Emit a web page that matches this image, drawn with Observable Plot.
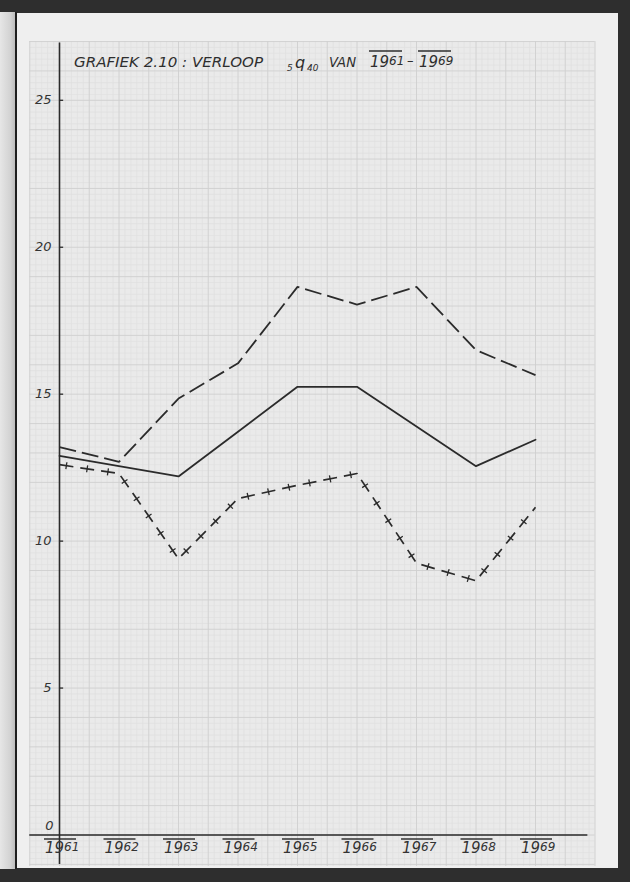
<!DOCTYPE html>
<html>
<head>
<meta charset="utf-8">
<script src="https://cdn.jsdelivr.net/npm/d3@7"></script>
<script src="https://cdn.jsdelivr.net/npm/@observablehq/plot@0.6"></script>
<style>
  html, body { margin:0; padding:0; }
  body { width:630px; height:882px; position:relative; overflow:hidden; background:#2e2e2e; }
  .layer { position:absolute; }
  #leftpage { left:0; top:12px; width:15px; height:857px; background:linear-gradient(to right,#e6e6e6,#d2d2d2 70%,#bdbdbd); }
  #edge { left:15px; top:12px; width:2px; height:857px; background:#1e1e1e; }
  #paper { left:17px; top:13px; width:601px; height:855px; background:#efefef; }
  #gridbg { left:29px; top:41px; width:566px; height:825px; background:#eaeaea; }
  #chart { position:absolute; left:0; top:0; }
  #chart svg { display:block; }
</style>
</head>
<body>
<div class="layer" id="leftpage"></div>
<div class="layer" id="edge"></div>
<div class="layer" id="paper"></div>
<div class="layer" id="gridbg"></div>
<div id="chart"></div>
<script>
// ---- data ----
const years = [1961, 1962, 1963, 1964, 1965, 1966, 1967, 1968, 1969];
const yearLabels = ["1961", "1962", "1963", "1964", "1965", "1966", "1967", "1968", "1969"];
const dashedSeries = [13.2, 12.7, 14.85, 16.05, 18.65, 18.05, 18.65, 16.5, 15.65];
const solidSeries  = [12.9, 12.55, 12.2, 13.72, 15.25, 15.25, 13.9, 12.55, 13.45];
const crossSeries  = [12.6, 12.3, 9.4, 11.45, 11.9, 12.3, 9.25, 8.65, 11.15];
const yTickValues = [0, 5, 10, 15, 20, 25];

const toRows = (vals) => years.map((yr, i) => ({year: yr, value: vals[i]}));

// graph-paper lines (decoration)
const vLines = d3.range(0, 96).map(i => ({x: 1960.5 + i / 10, major: i % 5 === 0}));
const hLines = d3.range(0, 141).map(i => ({y: -1 + i * 0.2, major: i % 5 === 0}));

const ink = "#2b2b2b";
const font = "DejaVu Sans, sans-serif";

const chart = Plot.plot({
  width: 630,
  height: 882,
  margin: 0,
  x: {domain: [1961, 1969], range: [59, 535], axis: null},
  y: {domain: [0, 25], range: [834.5, 99.8], axis: null},
  style: {background: "transparent", overflow: "visible"},
  marks: [
    Plot.ruleX(vLines.filter(d => !d.major), {x: "x", y1: -1.07, y2: 27, stroke: "#dfdfdf", strokeWidth: 0.7}),
    Plot.ruleY(hLines.filter(d => !d.major), {y: "y", x1: 1960.5, x2: 1970, stroke: "#dfdfdf", strokeWidth: 0.7}),
    Plot.ruleX(vLines.filter(d => d.major), {x: "x", y1: -1.07, y2: 27, stroke: "#cfcfcf", strokeWidth: 0.9}),
    Plot.ruleY(hLines.filter(d => d.major), {y: "y", x1: 1960.5, x2: 1970, stroke: "#cfcfcf", strokeWidth: 0.9}),
    // axes
    Plot.ruleX([1961], {y1: -1.0, y2: 26.95, stroke: ink, strokeWidth: 1.6}),
    Plot.ruleY([0], {x1: 1960.5, x2: 1969.88, stroke: ink, strokeWidth: 1.6}),
    Plot.ruleY(yTickValues.filter(v => v > 0), {x1: 1961, x2: 1961.07, stroke: ink, strokeWidth: 1.3}),
    Plot.text(yTickValues.filter(v => v > 0), {x: () => 1961, y: d => d, text: d => String(d), dx: -8, textAnchor: "end",
      fontSize: 13, fontStyle: "italic", fontFamily: font, fill: "#333"}),
    Plot.text([0], {x: () => 1961, y: d => d, text: d => String(d), dx: -10, dy: -9, textAnchor: "middle",
      fontSize: 13, fontStyle: "italic", fontFamily: font, fill: "#333"}),
    // series
    Plot.line(toRows(dashedSeries), {x: "year", y: "value", stroke: ink, strokeWidth: 1.8, strokeDasharray: "17,6",
      strokeLinecap: "butt", strokeLinejoin: "miter"}),
    Plot.line(toRows(solidSeries), {x: "year", y: "value", stroke: ink, strokeWidth: 1.8, strokeLinejoin: "miter"}),
    Plot.line(toRows(crossSeries), {x: "year", y: "value", stroke: ink, strokeWidth: 1.7, strokeDasharray: "14,7",
      strokeLinecap: "butt", strokeLinejoin: "miter"}),
    Plot.line(toRows(crossSeries), {x: "year", y: "value", stroke: ink, strokeWidth: 7, strokeDasharray: "1.3,19.7",
      strokeDashoffset: -6.3, strokeLinecap: "butt", strokeLinejoin: "bevel"})
  ]
});
document.getElementById("chart").appendChild(chart);

const svg = d3.select(chart);
const xs = chart.scale("x");
const ys = chart.scale("y");

// year labels below the x axis, with overline
const xl = svg.append("g").attr("fill", "#333").attr("font-family", font).attr("font-style", "italic")
  .attr("text-anchor", "start");
years.forEach((yr, i) => {
  const cx = xs.apply(yr) + 1;
  const base = ys.apply(0) + 18;
  xl.append("line").attr("x1", cx - 16).attr("x2", cx + 16)
    .attr("y1", base - 13.5).attr("y2", base - 13.5).attr("stroke", "#333").attr("stroke-width", 1.5);
  const t = xl.append("text").attr("x", cx - 15).attr("y", base);
  t.append("tspan").attr("font-size", 15).text(yearLabels[i].slice(0, 2));
  t.append("tspan").attr("font-size", 12).attr("dy", -2).text(yearLabels[i].slice(2));
});

// title
const tg = svg.append("g").attr("fill", "#2e2e2e").attr("font-family", font).attr("font-style", "italic")
  .attr("text-anchor", "start");
const titleBase = 67;
tg.append("text").attr("x", 74).attr("y", titleBase).attr("font-size", 14.5)
  .attr("textLength", 189).attr("lengthAdjust", "spacingAndGlyphs").text("GRAFIEK 2.10 : VERLOOP");
tg.append("text").attr("x", 287).attr("y", titleBase + 4).attr("font-size", 9).text("5");
tg.append("text").attr("x", 295).attr("y", titleBase + 1).attr("font-size", 16).text("q");
tg.append("text").attr("x", 307).attr("y", titleBase + 4).attr("font-size", 9).text("40");
tg.append("text").attr("x", 329).attr("y", titleBase).attr("font-size", 14.5)
  .attr("textLength", 27).attr("lengthAdjust", "spacingAndGlyphs").text("VAN");
const yearTitle = (x, label) => {
  tg.append("line").attr("x1", x).attr("x2", x + 33).attr("y1", 51).attr("y2", 51)
    .attr("stroke", "#2e2e2e").attr("stroke-width", 1.4);
  const t = tg.append("text").attr("x", x + 1).attr("y", titleBase);
  t.append("tspan").attr("font-size", 15).text(label.slice(0, 2));
  t.append("tspan").attr("font-size", 12).attr("dy", -2).text(label.slice(2));
};
yearTitle(369, yearLabels[0]);
tg.append("text").attr("x", 407).attr("y", titleBase - 2).attr("font-size", 13).text("–");
yearTitle(418, yearLabels[8]);
</script>
</body>
</html>
